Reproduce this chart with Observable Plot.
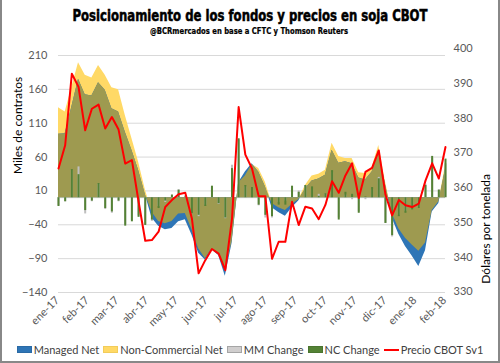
<!DOCTYPE html>
<html><head><meta charset="utf-8">
<script src="https://cdn.jsdelivr.net/npm/d3@7"></script>
<script src="https://cdn.jsdelivr.net/npm/@observablehq/plot@0.6"></script>
<style>
body{margin:0;background:#fff;}
#frame{position:relative;width:500px;height:363px;overflow:hidden;background:#fff;font-family:Lato,"Liberation Sans",sans-serif;}
#border{position:absolute;left:0;top:0;width:500px;height:363px;box-sizing:border-box;border:2px solid #888;border-top:none;pointer-events:none;}
#titles{position:absolute;left:0;top:0;display:block;}
#chart{position:absolute;left:0;top:40px;}
#legend{position:absolute;left:0;top:343px;width:500px;display:flex;justify-content:center;gap:4px;font-size:11px;color:#404040;line-height:13px;white-space:nowrap;}
.leg{display:flex;align-items:center;}
.sw{width:15px;height:7px;box-sizing:border-box;margin-right:2px;}
</style></head><body>
<div id="frame">
  <svg id="titles" width="500" height="40">
    <text x="250" y="21" text-anchor="middle" textLength="355" lengthAdjust="spacingAndGlyphs" font-family="'DejaVu Sans Condensed','Liberation Sans Narrow','DejaVu Sans'" font-weight="bold" font-size="15" fill="#000" stroke="#000" stroke-width="0.5">Posicionamiento de los fondos y precios en soja CBOT</text>
    <text x="249" y="34" text-anchor="middle" textLength="198" lengthAdjust="spacingAndGlyphs" font-family="'DejaVu Sans Condensed','Liberation Sans Narrow','DejaVu Sans'" font-weight="bold" font-size="8.5" fill="#000" stroke="#000" stroke-width="0.2">@BCRmercados en base a CFTC y Thomson Reuters</text>
  </svg>
  <div id="chart"></div>
  <div id="legend"></div>
  <div id="border"></div>
</div>
<script>
// Weekly data (thousand contracts) and CBOT soybean price (USD/t)
const managedNet = [93.6,94.6,134,174.8,152,150.2,169.9,158.6,131.5,126.6,97.1,70,40.6,5,-30,-42,-47.5,-45.5,-35.6,-32.7,-55,-82,-92,-77,-85.5,-116,-68,22,38,50,38,16,-15,-22,-27.3,-15,-4.7,13,24.6,27.5,33,70,51,53,50,29,26,38,70,20,-30,-54,-72,-86,-101.5,-78.5,-21,-8.6,42];
const nonCommercialNet = [133,126.6,163,199.4,180.7,176.8,195.4,180.7,162.5,159.5,121.7,87.3,52.9,12,-21,-35,-38.5,-35,-24,-23.4,-47,-75.5,-89.7,-75.7,-83,-107.5,-65,22,32,49,43,23,-8.6,-15,-19,-10,-3,18,32,34.7,40.6,80.5,61,58,58,37,35.6,45,77,24,-23,-46,-60,-70,-79,-67,-19,-6,48];
const mmChange = [-12,-6,40,45.5,-24,-6,20,-17.5,-23,-6,-40,-34,-27,-40,-35,-13,-7,3,12,3,-24,-28,-11,16,-10,-31,48,85,16,12,-12,-30,-30,-7,-5,12,10,18,12,5,5.5,37,-30,4,-3,-21,-3,12,30,-38,-58,-26,-20,-16,-15,20,58,12,50];
const ncChange = [-13,-6,41.5,34,-19,-5,21,-16,-21,-5,-42,-35.6,-29,-41,-33,-16,-5,4,11,1,-24,-26,-13,17,-9,-30,43,87,18,15,-11,-26,-28,-11,-11,17,8,18,16,2,6,40,-33,8,5,-23,1,15,28,-38,-56,-28,-23,-18,-16,18,61,11,57];
const price = [365.5,372.2,392.8,389,376.5,382.7,383.9,377,380.3,376.7,366.9,367.9,356,344.7,344.9,347.3,354.4,356.4,358.1,358.5,351,335.3,339.1,342.3,341,336.2,351,383.2,369.5,365.5,357.5,357.5,339.5,344.4,344.4,355.9,349.2,354.5,354,350.9,355,361.8,358.5,363.5,367,357,364.5,365.7,370.7,358,352,356.4,354.9,354.4,355.4,362,367,362.6,371.7];
const firstWeek = "2017-01-03";
const monthLabels = ["ene-17","feb-17","mar-17","abr-17","may-17","jun-17","jul-17","ago-17","sep-17","oct-17","nov-17","dic-17","ene-18","feb-18"];
const leftTicks = [-140,-90,-40,10,60,110,160,210];
const rightTicks = [330,340,350,360,370,380,390,400];
const seriesNames = ["Managed Net","Non-Commercial Net","MM Change","NC Change","Precio CBOT Sv1"];
const colors = {mm:"#2E75B6", nc:"#FFD966", both:"#9E9A50", mmChg:"#BFBFBF", ncChg:"#548235", price:"#FF0000"};

const t0 = new Date(firstWeek + "T00:00:00Z");
const rows = managedNet.map((mm, i) => {
  const nc = nonCommercialNet[i];
  const both = (mm * nc > 0) ? (Math.abs(mm) < Math.abs(nc) ? mm : nc) : 0;
  return {date: d3.utcDay.offset(t0, 7 * i), mm, nc, both, mmChg: mmChange[i], ncChg: ncChange[i], price: price[i]};
});
const t1 = rows[rows.length - 1].date;

// secondary axis: price mapped onto the left scale
const pBase = 330, vBase = -138.9, ratio = 5.128;
const toLeft = p => vBase + (p - pBase) * ratio;
const fromLeft = v => Math.round(pBase + (v - vBase) / ratio);

// month labels spread evenly along the time axis
const xTicks = monthLabels.map((label, k) => ({date: new Date(+t0 + k * (t1 - t0) / (monthLabels.length - 1)), label}));

const chart = Plot.plot({
  width: 500, height: 298,
  marginTop: 15, marginBottom: 46, marginLeft: 58, marginRight: 55,
  x: {type: "utc", domain: [t0, t1], axis: null},
  y: {domain: [-140, 210], axis: null},
  style: {fontFamily: "Lato, 'Liberation Sans', sans-serif", fontSize: "11px", color: "#595959", background: "transparent", overflow: "visible"},
  marks: [
    Plot.gridY(leftTicks, {stroke: "#d9d9d9", strokeOpacity: 1}),
    Plot.ruleY([0], {stroke: "#d9d9d9"}),
    Plot.areaY(rows, {x: "date", y: "nc", fill: colors.nc}),
    Plot.areaY(rows, {x: "date", y: "mm", fill: colors.mm}),
    Plot.areaY(rows, {x: "date", y: "both", fill: colors.both}),
    Plot.ruleX(rows, {x: "date", y1: 0, y2: "mmChg", stroke: colors.mmChg, strokeWidth: 2}),
    Plot.ruleX(rows, {x: "date", y1: 0, y2: "ncChg", stroke: colors.ncChg, strokeWidth: 2}),
    Plot.line(rows, {x: "date", y: d => toLeft(d.price), stroke: colors.price, strokeWidth: 2}),
    Plot.axisY(leftTicks, {anchor: "left", tickSize: 0, tickPadding: 11, label: null, fill: "#595959"}),
    Plot.axisY(rightTicks.map(toLeft), {anchor: "right", tickSize: 0, tickPadding: 8, label: null, tickFormat: fromLeft, fill: "#595959"}),
    Plot.text(xTicks, {x: "date", text: "label", frameAnchor: "bottom", rotate: -45, textAnchor: "end", lineAnchor: "middle", dx: -1, dy: 6, fill: "#595959", fontSize: 11}),
    Plot.text(["Miles de contratos"], {frameAnchor: "left", dx: -40, rotate: -90, fontSize: 12, fill: "#000"}),
    Plot.text(["Dólares por tonelada"], {frameAnchor: "right", dx: 41, rotate: -90, fontSize: 12, fill: "#000"})
  ]
});
document.getElementById("chart").appendChild(chart);

// legend
const legendStyle = [
  {bg: colors.mm, border: "1px solid #2a6aa5"},
  {bg: colors.nc, border: "1px solid #f2cc5a"},
  {bg: "#D0CECE", border: "1px solid #A5A5A5"},
  {bg: colors.ncChg, border: "1px solid #4a7530"},
  {line: colors.price}
];
const legend = document.getElementById("legend");
seriesNames.forEach((name, i) => {
  const item = document.createElement("div");
  item.className = "leg";
  const sw = document.createElement("div");
  sw.className = "sw";
  const st = legendStyle[i];
  if (st.line) { sw.style.height = "2px"; sw.style.background = st.line; }
  else { sw.style.background = st.bg; sw.style.border = st.border; }
  item.appendChild(sw);
  const tx = document.createElement("span");
  tx.textContent = name;
  item.appendChild(tx);
  legend.appendChild(item);
});
</script>
</body></html>
